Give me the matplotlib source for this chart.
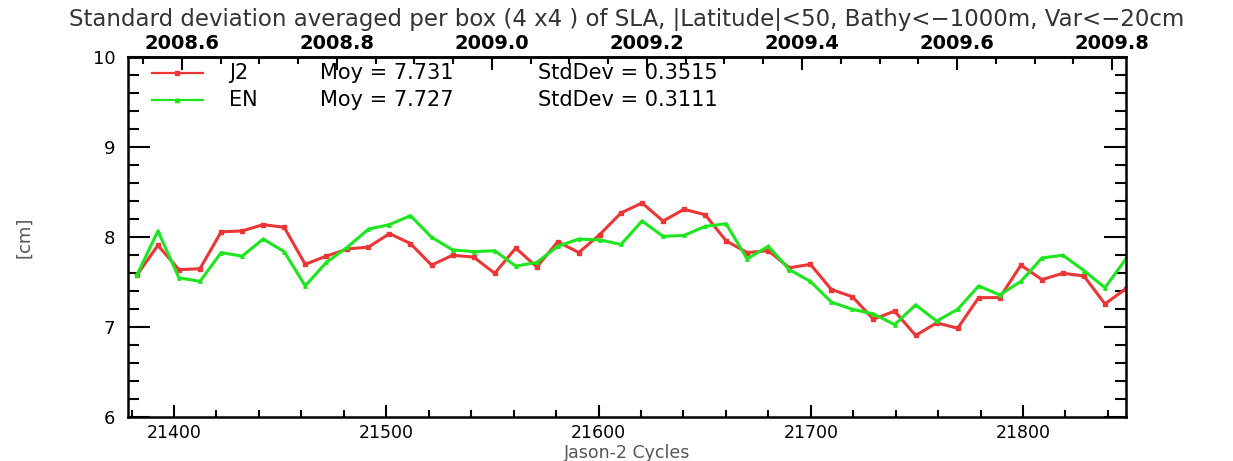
import numpy as np
import matplotlib
matplotlib.use("Agg")
import matplotlib.pyplot as plt
from matplotlib.ticker import MultipleLocator, FixedLocator, FormatStrFormatter

# Jason-2 cycles (CNES julian days) and box-averaged SLA std dev [cm]
cycles = [21382.5, 21392.4, 21402.3, 21412.2, 21422.2, 21432.1, 21442.0, 21451.9,
          21461.8, 21471.7, 21481.7, 21491.6, 21501.5, 21511.4, 21521.3, 21531.2,
          21541.1, 21551.1, 21561.0, 21570.9, 21580.8, 21590.7, 21600.6, 21610.6,
          21620.5, 21630.4, 21640.3, 21650.2, 21660.1, 21670.0, 21680.0, 21689.9,
          21699.8, 21709.7, 21719.6, 21729.5, 21739.5, 21749.4, 21759.3, 21769.2,
          21779.1, 21789.0, 21799.0, 21808.9, 21818.8, 21828.7, 21838.6, 21848.5]
j2 = [7.58, 7.91, 7.64, 7.65, 8.06, 8.07, 8.14, 8.11, 7.70, 7.79, 7.87, 7.89,
      8.04, 7.93, 7.69, 7.80, 7.78, 7.60, 7.88, 7.67, 7.95, 7.83, 8.03, 8.27,
      8.38, 8.18, 8.31, 8.25, 7.96, 7.83, 7.85, 7.66, 7.70, 7.42, 7.34, 7.09,
      7.18, 6.91, 7.05, 6.99, 7.33, 7.33, 7.69, 7.53, 7.60, 7.57, 7.26, 7.43]
en = [7.58, 8.07, 7.55, 7.51, 7.83, 7.79, 7.98, 7.84, 7.46, 7.72, 7.89, 8.09,
      8.14, 8.24, 8.00, 7.86, 7.84, 7.85, 7.68, 7.72, 7.90, 7.98, 7.97, 7.92,
      8.18, 8.01, 8.02, 8.12, 8.15, 7.76, 7.90, 7.64, 7.51, 7.28, 7.20, 7.15,
      7.03, 7.25, 7.07, 7.20, 7.46, 7.36, 7.51, 7.77, 7.80, 7.63, 7.44, 7.76]

year_ticks = [2008.6, 2008.8, 2009.0, 2009.2, 2009.4, 2009.6, 2009.8]

names = ["J2", "EN"]
moy = ["7.731", "7.727"]
stddev = ["0.3515", "0.3111"]

red = "#ea3636"
green = "#1ee61e"

fig = plt.figure(figsize=(12.33, 4.61), dpi=100)
ax = fig.add_axes([0.1038, 0.0944, 0.8094, 0.782])

ax.plot(cycles, j2, color=red, lw=2.2, marker="s", ms=2.5)
ax.plot(cycles, en, color=green, lw=2.2, marker="^", ms=2.5)

ax.set_xlim(21378.3, 21848.5)
ax.set_ylim(6, 10)

ax.xaxis.set_major_locator(MultipleLocator(100))
ax.xaxis.set_minor_locator(MultipleLocator(20))
ax.yaxis.set_major_locator(MultipleLocator(1))
ax.yaxis.set_minor_locator(MultipleLocator(0.2))
ax.tick_params(axis="x", which="major", direction="in", length=9, width=1.5, labelsize=12.5, pad=5)
ax.tick_params(axis="x", which="minor", direction="in", length=5, width=1.5)
ax.tick_params(axis="y", which="major", direction="in", length=16, width=1.5, labelsize=13,
               right=True, pad=9)
ax.tick_params(axis="y", which="minor", direction="in", length=8, width=1.5, right=True)
for s in ax.spines.values():
    s.set_linewidth(1.8)

top = ax.secondary_xaxis("top", functions=(lambda c: 1950 + c / 365.25,
                                           lambda y: (y - 1950) * 365.25))
top.xaxis.set_major_locator(FixedLocator(year_ticks))
top.xaxis.set_minor_locator(MultipleLocator(0.05))
top.xaxis.set_major_formatter(FormatStrFormatter("%.1f"))
top.tick_params(which="major", direction="in", length=9, width=1.5, labelsize=14, pad=3)
top.tick_params(which="minor", direction="in", length=5, width=1.5)
for lbl in top.get_xticklabels():
    lbl.set_fontweight("bold")
top.spines["top"].set_linewidth(1.8)

ax.set_xlabel("Jason-2 Cycles", fontsize=12.5, color="#555555", labelpad=1)
ax.set_ylabel("[cm]", fontsize=13, color="#555555")
ax.yaxis.set_label_coords(-0.095, 0.5)

fig.text(0.508, 0.958, "Standard deviation averaged per box (4 x4 ) of SLA, |Latitude|<50, "
         "Bathy<\u22121000m, Var<\u221220cm", ha="center", va="center", fontsize=16.5,
         color="#333333")

# legend rows
for i, (nm, c) in enumerate(zip(names, [red, green])):
    yy = 0.955 - i * 0.073
    ax.plot([0.024, 0.075], [yy, yy], color=c, lw=1.6, transform=ax.transAxes)
    ax.plot([0.0495], [yy], color=c, marker="s" if i == 0 else "^", ms=3,
            transform=ax.transAxes)
    ax.text(0.101, yy, nm, transform=ax.transAxes, va="center", fontsize=15)
    ax.text(0.192, yy, "Moy = " + moy[i], transform=ax.transAxes, va="center", fontsize=15)
    ax.text(0.411, yy, "StdDev = " + stddev[i], transform=ax.transAxes, va="center",
            fontsize=15)

fig.savefig("out.png", dpi=100)
